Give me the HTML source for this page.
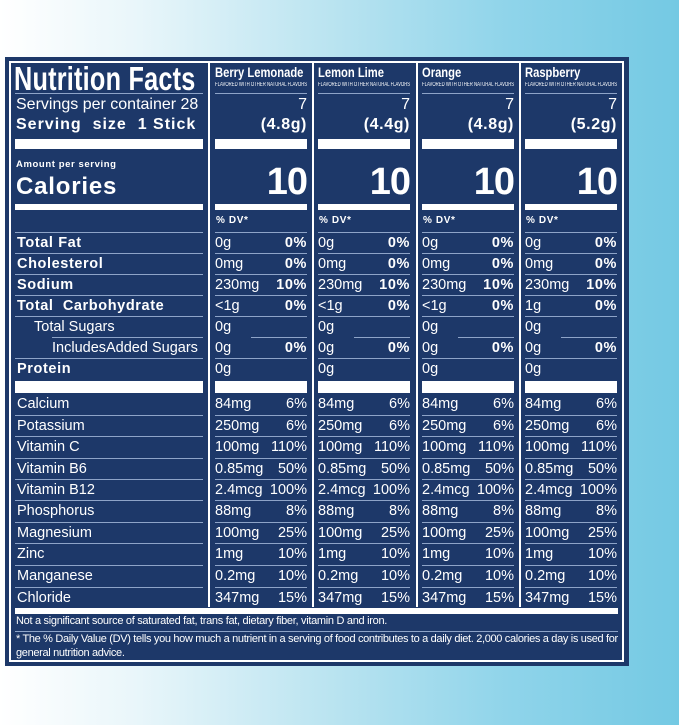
<!DOCTYPE html>
<html><head><meta charset="utf-8"><style>
*{margin:0;padding:0;box-sizing:border-box}
body{width:679px;height:725px;overflow:hidden;position:relative;font-family:"Liberation Sans",Arial,sans-serif;color:#fff;
background:linear-gradient(to right,#ffffff 0%,#e9f6fa 20%,#b8e3f0 50%,#8fd4ea 75%,#74c9e3 100%)}
.panel{position:absolute;left:5px;top:57px;width:624px;height:609px;background:#1d3869}
.border{position:absolute;left:9px;top:61px;width:615px;height:601px;border:2px solid #fff}
.vs{position:absolute;top:63px;height:544px;width:2px;background:#fff}
.a{position:absolute;white-space:nowrap}
.ln{position:absolute;height:1px;background:#8ea4c8}
.bar{position:absolute;background:#fff}
.r{position:absolute;height:21px;line-height:22px;font-size:14.5px}
.b{font-weight:900;letter-spacing:0.6px}
.v{position:absolute}
.p{position:absolute;text-align:right;width:92px}
.fl{position:absolute;top:82px;font-size:6px;white-space:nowrap;transform:scaleX(0.71);transform-origin:left top}
</style></head><body>
<div class="panel"></div>
<div class="border"></div>
<div class="vs" style="left:208px"></div>
<div class="vs" style="left:312px"></div>
<div class="vs" style="left:416px"></div>
<div class="vs" style="left:519px"></div>

<div class="a" style="left:14px;top:60px;font-size:33px;font-weight:bold;transform:scaleX(0.765);transform-origin:left top;letter-spacing:0.3px">Nutrition Facts</div>
<div class="ln" style="left:15px;top:93px;width:188px"></div>
<div class="a" style="left:16px;top:96px;font-size:16px">Servings per container 28</div>
<div class="a b" style="left:16px;top:116px;font-size:16px;letter-spacing:1px">Serving&nbsp; size&nbsp; 1 Stick</div>

<div class="a" style="left:215px;top:64px;font-size:14px;font-weight:bold;transform:scaleX(0.8);transform-origin:left top">Berry Lemonade</div>
<div class="a" style="left:318px;top:64px;font-size:14px;font-weight:bold;transform:scaleX(0.8);transform-origin:left top">Lemon Lime</div>
<div class="a" style="left:422px;top:64px;font-size:14px;font-weight:bold;transform:scaleX(0.8);transform-origin:left top">Orange</div>
<div class="a" style="left:525px;top:64px;font-size:14px;font-weight:bold;transform:scaleX(0.8);transform-origin:left top">Raspberry</div>
<div class="fl" style="left:215px">FLAVORED WITH OTHER NATURAL FLAVORS</div>
<div class="fl" style="left:318px">FLAVORED WITH OTHER NATURAL FLAVORS</div>
<div class="fl" style="left:422px">FLAVORED WITH OTHER NATURAL FLAVORS</div>
<div class="fl" style="left:525px">FLAVORED WITH OTHER NATURAL FLAVORS</div>
<div class="ln" style="left:215px;top:93px;width:92px"></div>
<div class="ln" style="left:318px;top:93px;width:92px"></div>
<div class="ln" style="left:422px;top:93px;width:92px"></div>
<div class="ln" style="left:525px;top:93px;width:92px"></div>

<div class="p" style="left:215px;top:96px;font-size:16px">7</div>
<div class="p" style="left:318px;top:96px;font-size:16px">7</div>
<div class="p" style="left:422px;top:96px;font-size:16px">7</div>
<div class="p" style="left:525px;top:96px;font-size:16px">7</div>
<div class="p b" style="left:215px;top:116px;font-size:16px">(4.8g)</div>
<div class="p b" style="left:318px;top:116px;font-size:16px">(4.4g)</div>
<div class="p b" style="left:422px;top:116px;font-size:16px">(4.8g)</div>
<div class="p b" style="left:525px;top:116px;font-size:16px">(5.2g)</div>

<div class="bar" style="left:15px;top:139px;width:188px;height:10px"></div>
<div class="bar" style="left:215px;top:139px;width:92px;height:10px"></div>
<div class="bar" style="left:318px;top:139px;width:92px;height:10px"></div>
<div class="bar" style="left:422px;top:139px;width:92px;height:10px"></div>
<div class="bar" style="left:525px;top:139px;width:92px;height:10px"></div>

<div class="a b" style="left:16px;top:159px;font-size:9.5px">Amount per serving</div>
<div class="a b" style="left:16px;top:173px;font-size:24px;letter-spacing:0.8px">Calories</div>
<div class="p b" style="left:215px;top:161px;font-size:38px;letter-spacing:-1px">10</div>
<div class="p b" style="left:318px;top:161px;font-size:38px;letter-spacing:-1px">10</div>
<div class="p b" style="left:422px;top:161px;font-size:38px;letter-spacing:-1px">10</div>
<div class="p b" style="left:525px;top:161px;font-size:38px;letter-spacing:-1px">10</div>

<div class="bar" style="left:15px;top:204px;width:188px;height:6px"></div>
<div class="bar" style="left:215px;top:204px;width:92px;height:6px"></div>
<div class="bar" style="left:318px;top:204px;width:92px;height:6px"></div>
<div class="bar" style="left:422px;top:204px;width:92px;height:6px"></div>
<div class="bar" style="left:525px;top:204px;width:92px;height:6px"></div>

<div class="a b" style="left:216px;top:215px;font-size:10px">% DV*</div>
<div class="a b" style="left:319px;top:215px;font-size:10px">% DV*</div>
<div class="a b" style="left:423px;top:215px;font-size:10px">% DV*</div>
<div class="a b" style="left:526px;top:215px;font-size:10px">% DV*</div>

<div class="ln" style="left:15px;top:232px;width:188px"></div>
<div class="ln" style="left:15px;top:253px;width:188px"></div>
<div class="ln" style="left:15px;top:274px;width:188px"></div>
<div class="ln" style="left:15px;top:295px;width:188px"></div>
<div class="ln" style="left:15px;top:316px;width:188px"></div>
<div class="ln" style="left:52px;top:337px;width:151px"></div>
<div class="ln" style="left:15px;top:358px;width:188px"></div>
<div class="ln" style="left:15px;top:415px;width:188px"></div>
<div class="ln" style="left:15px;top:436px;width:188px"></div>
<div class="ln" style="left:15px;top:458px;width:188px"></div>
<div class="ln" style="left:15px;top:479px;width:188px"></div>
<div class="ln" style="left:15px;top:500px;width:188px"></div>
<div class="ln" style="left:15px;top:522px;width:188px"></div>
<div class="ln" style="left:15px;top:543px;width:188px"></div>
<div class="ln" style="left:15px;top:565px;width:188px"></div>
<div class="ln" style="left:15px;top:587px;width:188px"></div>

<div style="position:absolute;left:215px;top:0">
<div class="ln" style="left:0;top:232px;width:92px"></div><div class="ln" style="left:0;top:253px;width:92px"></div><div class="ln" style="left:0;top:274px;width:92px"></div><div class="ln" style="left:0;top:295px;width:92px"></div><div class="ln" style="left:0;top:316px;width:92px"></div><div class="ln" style="left:36px;top:337px;width:56px"></div><div class="ln" style="left:0;top:358px;width:92px"></div><div class="ln" style="left:0;top:415px;width:92px"></div><div class="ln" style="left:0;top:436px;width:92px"></div><div class="ln" style="left:0;top:458px;width:92px"></div><div class="ln" style="left:0;top:479px;width:92px"></div><div class="ln" style="left:0;top:500px;width:92px"></div><div class="ln" style="left:0;top:522px;width:92px"></div><div class="ln" style="left:0;top:543px;width:92px"></div><div class="ln" style="left:0;top:565px;width:92px"></div><div class="ln" style="left:0;top:587px;width:92px"></div>
</div>
<div style="position:absolute;left:318px;top:0">
<div class="ln" style="left:0;top:232px;width:92px"></div><div class="ln" style="left:0;top:253px;width:92px"></div><div class="ln" style="left:0;top:274px;width:92px"></div><div class="ln" style="left:0;top:295px;width:92px"></div><div class="ln" style="left:0;top:316px;width:92px"></div><div class="ln" style="left:36px;top:337px;width:56px"></div><div class="ln" style="left:0;top:358px;width:92px"></div><div class="ln" style="left:0;top:415px;width:92px"></div><div class="ln" style="left:0;top:436px;width:92px"></div><div class="ln" style="left:0;top:458px;width:92px"></div><div class="ln" style="left:0;top:479px;width:92px"></div><div class="ln" style="left:0;top:500px;width:92px"></div><div class="ln" style="left:0;top:522px;width:92px"></div><div class="ln" style="left:0;top:543px;width:92px"></div><div class="ln" style="left:0;top:565px;width:92px"></div><div class="ln" style="left:0;top:587px;width:92px"></div>
</div>
<div style="position:absolute;left:422px;top:0">
<div class="ln" style="left:0;top:232px;width:92px"></div><div class="ln" style="left:0;top:253px;width:92px"></div><div class="ln" style="left:0;top:274px;width:92px"></div><div class="ln" style="left:0;top:295px;width:92px"></div><div class="ln" style="left:0;top:316px;width:92px"></div><div class="ln" style="left:36px;top:337px;width:56px"></div><div class="ln" style="left:0;top:358px;width:92px"></div><div class="ln" style="left:0;top:415px;width:92px"></div><div class="ln" style="left:0;top:436px;width:92px"></div><div class="ln" style="left:0;top:458px;width:92px"></div><div class="ln" style="left:0;top:479px;width:92px"></div><div class="ln" style="left:0;top:500px;width:92px"></div><div class="ln" style="left:0;top:522px;width:92px"></div><div class="ln" style="left:0;top:543px;width:92px"></div><div class="ln" style="left:0;top:565px;width:92px"></div><div class="ln" style="left:0;top:587px;width:92px"></div>
</div>
<div style="position:absolute;left:525px;top:0">
<div class="ln" style="left:0;top:232px;width:92px"></div><div class="ln" style="left:0;top:253px;width:92px"></div><div class="ln" style="left:0;top:274px;width:92px"></div><div class="ln" style="left:0;top:295px;width:92px"></div><div class="ln" style="left:0;top:316px;width:92px"></div><div class="ln" style="left:36px;top:337px;width:56px"></div><div class="ln" style="left:0;top:358px;width:92px"></div><div class="ln" style="left:0;top:415px;width:92px"></div><div class="ln" style="left:0;top:436px;width:92px"></div><div class="ln" style="left:0;top:458px;width:92px"></div><div class="ln" style="left:0;top:479px;width:92px"></div><div class="ln" style="left:0;top:500px;width:92px"></div><div class="ln" style="left:0;top:522px;width:92px"></div><div class="ln" style="left:0;top:543px;width:92px"></div><div class="ln" style="left:0;top:565px;width:92px"></div><div class="ln" style="left:0;top:587px;width:92px"></div>
</div>

<div class="bar" style="left:15px;top:381px;width:188px;height:12px"></div>
<div class="bar" style="left:215px;top:381px;width:92px;height:12px"></div>
<div class="bar" style="left:318px;top:381px;width:92px;height:12px"></div>
<div class="bar" style="left:422px;top:381px;width:92px;height:12px"></div>
<div class="bar" style="left:525px;top:381px;width:92px;height:12px"></div>

<div class="r b" style="left:17px;top:232px">Total Fat</div>
<div class="r b" style="left:17px;top:253px">Cholesterol</div>
<div class="r b" style="left:17px;top:274px">Sodium</div>
<div class="r b" style="left:17px;top:295px">Total&nbsp; Carbohydrate</div>
<div class="r" style="left:34px;top:316px">Total Sugars</div>
<div class="r" style="left:52px;top:337px">IncludesAdded Sugars</div>
<div class="r b" style="left:17px;top:358px">Protein</div>
<div class="r" style="left:17px;top:393px">Calcium</div>
<div class="r" style="left:17px;top:415px">Potassium</div>
<div class="r" style="left:17px;top:436px">Vitamin C</div>
<div class="r" style="left:17px;top:458px">Vitamin B6</div>
<div class="r" style="left:17px;top:479px">Vitamin B12</div>
<div class="r" style="left:17px;top:500px">Phosphorus</div>
<div class="r" style="left:17px;top:522px">Magnesium</div>
<div class="r" style="left:17px;top:543px">Zinc</div>
<div class="r" style="left:17px;top:565px">Manganese</div>
<div class="r" style="left:17px;top:587px">Chloride</div>

<div style="position:absolute;left:215px;top:0">
<div class="r v" style="top:232px">0g</div><div class="r p b" style="top:232px">0%</div>
<div class="r v" style="top:253px">0mg</div><div class="r p b" style="top:253px">0%</div>
<div class="r v" style="top:274px">230mg</div><div class="r p b" style="top:274px">10%</div>
<div class="r v" style="top:295px">&lt;1g</div><div class="r p b" style="top:295px">0%</div>
<div class="r v" style="top:316px">0g</div>
<div class="r v" style="top:337px">0g</div><div class="r p b" style="top:337px">0%</div>
<div class="r v" style="top:358px">0g</div>
<div class="r v" style="top:393px">84mg</div><div class="r p" style="top:393px">6%</div>
<div class="r v" style="top:415px">250mg</div><div class="r p" style="top:415px">6%</div>
<div class="r v" style="top:436px">100mg</div><div class="r p" style="top:436px">110%</div>
<div class="r v" style="top:458px">0.85mg</div><div class="r p" style="top:458px">50%</div>
<div class="r v" style="top:479px">2.4mcg</div><div class="r p" style="top:479px">100%</div>
<div class="r v" style="top:500px">88mg</div><div class="r p" style="top:500px">8%</div>
<div class="r v" style="top:522px">100mg</div><div class="r p" style="top:522px">25%</div>
<div class="r v" style="top:543px">1mg</div><div class="r p" style="top:543px">10%</div>
<div class="r v" style="top:565px">0.2mg</div><div class="r p" style="top:565px">10%</div>
<div class="r v" style="top:587px">347mg</div><div class="r p" style="top:587px">15%</div>
</div>
<div style="position:absolute;left:318px;top:0">
<div class="r v" style="top:232px">0g</div><div class="r p b" style="top:232px">0%</div>
<div class="r v" style="top:253px">0mg</div><div class="r p b" style="top:253px">0%</div>
<div class="r v" style="top:274px">230mg</div><div class="r p b" style="top:274px">10%</div>
<div class="r v" style="top:295px">&lt;1g</div><div class="r p b" style="top:295px">0%</div>
<div class="r v" style="top:316px">0g</div>
<div class="r v" style="top:337px">0g</div><div class="r p b" style="top:337px">0%</div>
<div class="r v" style="top:358px">0g</div>
<div class="r v" style="top:393px">84mg</div><div class="r p" style="top:393px">6%</div>
<div class="r v" style="top:415px">250mg</div><div class="r p" style="top:415px">6%</div>
<div class="r v" style="top:436px">100mg</div><div class="r p" style="top:436px">110%</div>
<div class="r v" style="top:458px">0.85mg</div><div class="r p" style="top:458px">50%</div>
<div class="r v" style="top:479px">2.4mcg</div><div class="r p" style="top:479px">100%</div>
<div class="r v" style="top:500px">88mg</div><div class="r p" style="top:500px">8%</div>
<div class="r v" style="top:522px">100mg</div><div class="r p" style="top:522px">25%</div>
<div class="r v" style="top:543px">1mg</div><div class="r p" style="top:543px">10%</div>
<div class="r v" style="top:565px">0.2mg</div><div class="r p" style="top:565px">10%</div>
<div class="r v" style="top:587px">347mg</div><div class="r p" style="top:587px">15%</div>
</div>
<div style="position:absolute;left:422px;top:0">
<div class="r v" style="top:232px">0g</div><div class="r p b" style="top:232px">0%</div>
<div class="r v" style="top:253px">0mg</div><div class="r p b" style="top:253px">0%</div>
<div class="r v" style="top:274px">230mg</div><div class="r p b" style="top:274px">10%</div>
<div class="r v" style="top:295px">&lt;1g</div><div class="r p b" style="top:295px">0%</div>
<div class="r v" style="top:316px">0g</div>
<div class="r v" style="top:337px">0g</div><div class="r p b" style="top:337px">0%</div>
<div class="r v" style="top:358px">0g</div>
<div class="r v" style="top:393px">84mg</div><div class="r p" style="top:393px">6%</div>
<div class="r v" style="top:415px">250mg</div><div class="r p" style="top:415px">6%</div>
<div class="r v" style="top:436px">100mg</div><div class="r p" style="top:436px">110%</div>
<div class="r v" style="top:458px">0.85mg</div><div class="r p" style="top:458px">50%</div>
<div class="r v" style="top:479px">2.4mcg</div><div class="r p" style="top:479px">100%</div>
<div class="r v" style="top:500px">88mg</div><div class="r p" style="top:500px">8%</div>
<div class="r v" style="top:522px">100mg</div><div class="r p" style="top:522px">25%</div>
<div class="r v" style="top:543px">1mg</div><div class="r p" style="top:543px">10%</div>
<div class="r v" style="top:565px">0.2mg</div><div class="r p" style="top:565px">10%</div>
<div class="r v" style="top:587px">347mg</div><div class="r p" style="top:587px">15%</div>
</div>
<div style="position:absolute;left:525px;top:0">
<div class="r v" style="top:232px">0g</div><div class="r p b" style="top:232px">0%</div>
<div class="r v" style="top:253px">0mg</div><div class="r p b" style="top:253px">0%</div>
<div class="r v" style="top:274px">230mg</div><div class="r p b" style="top:274px">10%</div>
<div class="r v" style="top:295px">1g</div><div class="r p b" style="top:295px">0%</div>
<div class="r v" style="top:316px">0g</div>
<div class="r v" style="top:337px">0g</div><div class="r p b" style="top:337px">0%</div>
<div class="r v" style="top:358px">0g</div>
<div class="r v" style="top:393px">84mg</div><div class="r p" style="top:393px">6%</div>
<div class="r v" style="top:415px">250mg</div><div class="r p" style="top:415px">6%</div>
<div class="r v" style="top:436px">100mg</div><div class="r p" style="top:436px">110%</div>
<div class="r v" style="top:458px">0.85mg</div><div class="r p" style="top:458px">50%</div>
<div class="r v" style="top:479px">2.4mcg</div><div class="r p" style="top:479px">100%</div>
<div class="r v" style="top:500px">88mg</div><div class="r p" style="top:500px">8%</div>
<div class="r v" style="top:522px">100mg</div><div class="r p" style="top:522px">25%</div>
<div class="r v" style="top:543px">1mg</div><div class="r p" style="top:543px">10%</div>
<div class="r v" style="top:565px">0.2mg</div><div class="r p" style="top:565px">10%</div>
<div class="r v" style="top:587px">347mg</div><div class="r p" style="top:587px">15%</div>
</div>

<div class="bar" style="left:15px;top:608px;width:603px;height:6px"></div>
<div class="a" style="left:16px;top:615px;font-size:11px;letter-spacing:-0.3px">Not a significant source of saturated fat, trans fat, dietary fiber, vitamin D and iron.</div>
<div class="ln" style="left:15px;top:631px;width:603px"></div>
<div class="a" style="left:16px;top:633px;font-size:11px;letter-spacing:-0.33px">* The % Daily Value (DV) tells you how much a nutrient in a serving of food contributes to a daily diet. 2,000 calories a day is used for</div>
<div class="a" style="left:16px;top:647px;font-size:11px;letter-spacing:-0.33px">general nutrition advice.</div>
</body></html>
